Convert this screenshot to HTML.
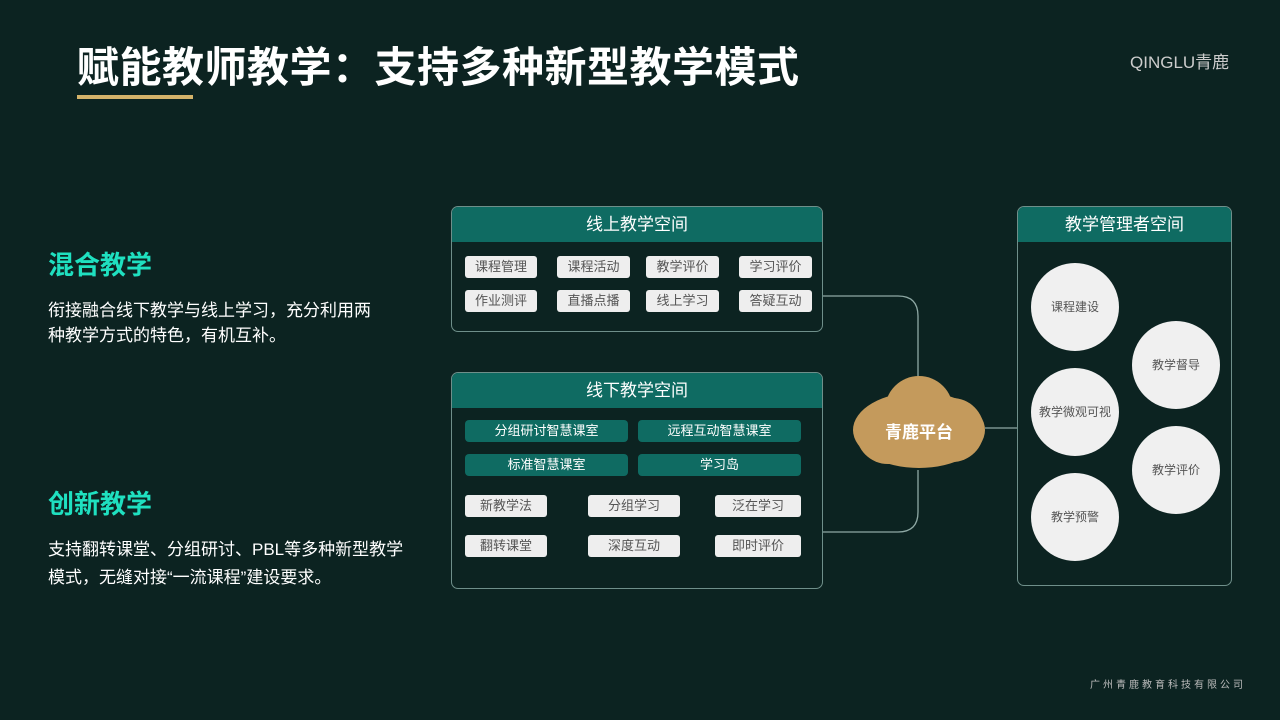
<!DOCTYPE html>
<html><head><meta charset="utf-8"><style>
*{margin:0;padding:0;box-sizing:border-box}
body{width:1280px;height:720px;overflow:hidden;background:#0c2321;font-family:"Liberation Sans","Noto Sans CJK SC",sans-serif;position:relative;color:#fff}
.a{position:absolute}
.box{position:absolute;border:1.5px solid #6f8f8a;border-radius:7px;overflow:hidden}
.hd{background:#0f6b62;color:#fff;font-size:17px;text-align:center;height:35px;line-height:35px}
.p{position:absolute;background:#eeeeee;color:#555;font-size:13px;text-align:center;height:22px;line-height:22px;border-radius:3px}
.t{position:absolute;background:#0f6b62;color:#fff;font-size:13px;text-align:center;height:22px;line-height:22px;border-radius:4px}
.c{position:absolute;width:88px;height:88px;border-radius:50%;background:#f0f0f0;color:#555;font-size:12px;text-align:center;line-height:88px}
</style></head><body>
<div class="a" style="left:77px;top:34px;font-size:42px;font-weight:bold;letter-spacing:0.5px">赋能教师教学：支持多种新型教学模式</div>
<div class="a" style="left:77px;top:95px;width:116px;height:4px;background:#d4b36a"></div>
<div class="a" style="left:1130px;top:48px;font-size:17px;color:#ccc">QINGLU青鹿</div>
<div class="a" style="left:48px;top:245px;font-size:26px;font-weight:bold;color:#1fe0c0">混合教学</div>
<div class="a" style="left:48px;top:298px;font-size:17px;line-height:25px;width:380px">衔接融合线下教学与线上学习，充分利用两<br>种教学方式的特色，有机互补。</div>
<div class="a" style="left:48px;top:484px;font-size:26px;font-weight:bold;color:#1fe0c0">创新教学</div>
<div class="a" style="left:48px;top:536px;font-size:17px;line-height:28px;width:400px">支持翻转课堂、分组研讨、PBL等多种新型教学<br>模式，无缝对接“一流课程”建设要求。</div>
<div class="a" style="left:1090px;top:676px;font-size:10px;color:#bbb;letter-spacing:3px">广州青鹿教育科技有限公司</div>

<svg class="a" style="left:0;top:0" width="1280" height="720">
<path d="M822 296 H898 Q918 296 918 316 V380 M918 470 V512 Q918 532 898 532 H822 M985 428 H1017" fill="none" stroke="#8fa9a5" stroke-width="1.3"/>
<g fill="#c49a5c">
<ellipse cx="919" cy="430" rx="66" ry="38"/>
<circle cx="919" cy="410" r="34"/>
<circle cx="888" cy="432" r="32"/>
<circle cx="952" cy="430" r="32"/>
</g>
<text x="919" y="438" fill="#fff" font-size="17" font-weight="bold" text-anchor="middle" font-family="Liberation Sans,Noto Sans CJK SC,sans-serif">青鹿平台</text>
</svg>

<div class="box" style="left:451px;top:206px;width:372px;height:126px"><div class="hd">线上教学空间</div></div>
<div class="p" style="left:465px;top:256px;width:72px">课程管理</div>
<div class="p" style="left:557px;top:256px;width:73px">课程活动</div>
<div class="p" style="left:646px;top:256px;width:73px">教学评价</div>
<div class="p" style="left:739px;top:256px;width:73px">学习评价</div>
<div class="p" style="left:465px;top:290px;width:72px">作业测评</div>
<div class="p" style="left:557px;top:290px;width:73px">直播点播</div>
<div class="p" style="left:646px;top:290px;width:73px">线上学习</div>
<div class="p" style="left:739px;top:290px;width:73px">答疑互动</div>

<div class="box" style="left:451px;top:372px;width:372px;height:217px"><div class="hd">线下教学空间</div></div>
<div class="t" style="left:465px;top:420px;width:163px">分组研讨智慧课室</div>
<div class="t" style="left:638px;top:420px;width:163px">远程互动智慧课室</div>
<div class="t" style="left:465px;top:454px;width:163px">标准智慧课室</div>
<div class="t" style="left:638px;top:454px;width:163px">学习岛</div>
<div class="p" style="left:465px;top:495px;width:82px">新教学法</div>
<div class="p" style="left:588px;top:495px;width:92px">分组学习</div>
<div class="p" style="left:715px;top:495px;width:86px">泛在学习</div>
<div class="p" style="left:465px;top:535px;width:82px">翻转课堂</div>
<div class="p" style="left:588px;top:535px;width:92px">深度互动</div>
<div class="p" style="left:715px;top:535px;width:86px">即时评价</div>

<div class="box" style="left:1017px;top:206px;width:215px;height:380px"><div class="hd">教学管理者空间</div></div>
<div class="c" style="left:1031px;top:263px">课程建设</div>
<div class="c" style="left:1132px;top:321px">教学督导</div>
<div class="c" style="left:1031px;top:368px">教学微观可视</div>
<div class="c" style="left:1132px;top:426px">教学评价</div>
<div class="c" style="left:1031px;top:473px">教学预警</div>
</body></html>
